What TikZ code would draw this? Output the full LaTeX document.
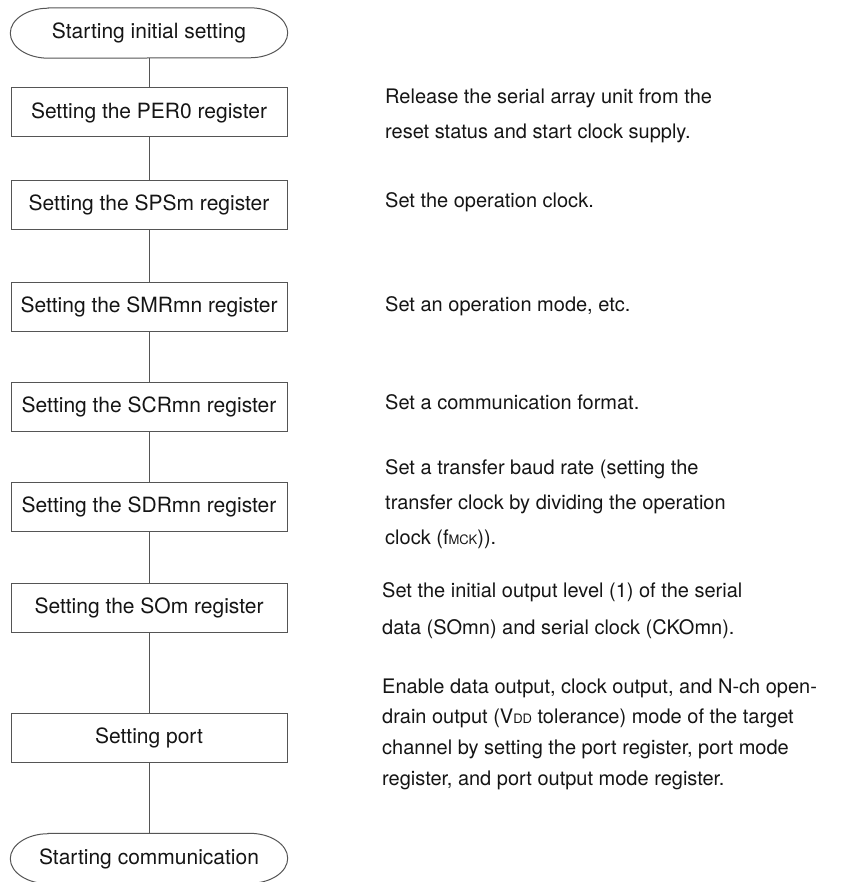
\documentclass[tikz,border=0pt]{standalone}
\usepackage{fontspec}
\setmainfont{TeX Gyre Heros}
\definecolor{ink}{HTML}{151515}
\definecolor{edge}{HTML}{555555}
\tikzset{
  stepbox/.style={draw=edge, line width=1pt, minimum width=276pt, minimum height=49pt, inner sep=0pt, text=ink, font=\fontsize{21}{21}\selectfont},
  termtext/.style={inner sep=0pt, minimum width=277pt, minimum height=50pt, text=ink, font=\fontsize{21}{21}\selectfont},
  desc/.style={anchor=base west, inner sep=0pt, text=ink, font=\fontsize{20}{20}\selectfont},
  link/.style={draw=edge, line width=1pt}
}
\newcommand{\termshape}[1]{%
  \draw[draw=edge, line width=1pt]
    ([xshift=38pt]#1.north west) -- ([xshift=-38pt]#1.north east)
    arc[start angle=90, end angle=-90, x radius=38pt, y radius=25pt]
    -- ([xshift=38pt]#1.south west)
    arc[start angle=270, end angle=90, x radius=38pt, y radius=25pt] -- cycle;}
\newcommand{\smallsub}[1]{{\fontsize{13}{13}\selectfont #1}}
\begin{document}
\begin{tikzpicture}[x=1pt, y=-1pt]
\useasboundingbox[fill=white] (0,0) rectangle (852,882);

\node[termtext] (start) at (149,33) {Starting initial setting};
\termshape{start}
\node[stepbox] (per) at (149,112.5) {Setting the PER0 register};
\node[stepbox] (sps) at (149,205) {Setting the SPSm register};
\node[stepbox] (smr) at (149,306.5) {Setting the SMRmn register};
\node[stepbox] (scr) at (149,406.5) {Setting the SCRmn register};
\node[stepbox] (sdr) at (149,507) {Setting the SDRmn register};
\node[stepbox] (som) at (149,608) {Setting the SOm register};
\node[stepbox] (port) at (149,737.5) {Setting port};
\node[termtext] (stop) at (149,858.5) {Starting communication};
\termshape{stop}

\draw[link] (start.south) -- (per.north);
\draw[link] (per.south) -- (sps.north);
\draw[link] (sps.south) -- (smr.north);
\draw[link] (smr.south) -- (scr.north);
\draw[link] (scr.south) -- (sdr.north);
\draw[link] (sdr.south) -- (som.north);
\draw[link] (som.south) -- (port.north);
\draw[link] (port.south) -- (stop.north);

\node[desc] (d1a) at (385,104) {Release the serial array unit from the};
\node[desc] (d1b) at (385,139) {reset status and start clock supply.};
\node[desc] (d2) at (385,208) {Set the operation clock.};
\node[desc] (d3) at (385,311) {Set an operation mode, etc.};
\node[desc] (d4) at (385,409) {Set a communication format.};
\node[desc] (d5a) at (385,474) {Set a transfer baud rate (setting the};
\node[desc] (d5b) at (385,509) {transfer clock by dividing the operation};
\node[desc] (d5c) at (385,544) {clock (f\smallsub{MCK})).};
\node[desc] (d6a) at (382,597) {Set the initial output level (1) of the serial};
\node[desc] (d6b) at (382,634) {data (SOmn) and serial clock (CKOmn).};
\node[desc] (d7a) at (382,693) {Enable data output, clock output, and N-ch open-};
\node[desc] (d7b) at (382,723) {drain output (V\smallsub{DD} tolerance) mode of the target};
\node[desc] (d7c) at (382,754) {channel by setting the port register, port mode};
\node[desc] (d7d) at (382,785) {register, and port output mode register.};
\end{tikzpicture}
\end{document}
